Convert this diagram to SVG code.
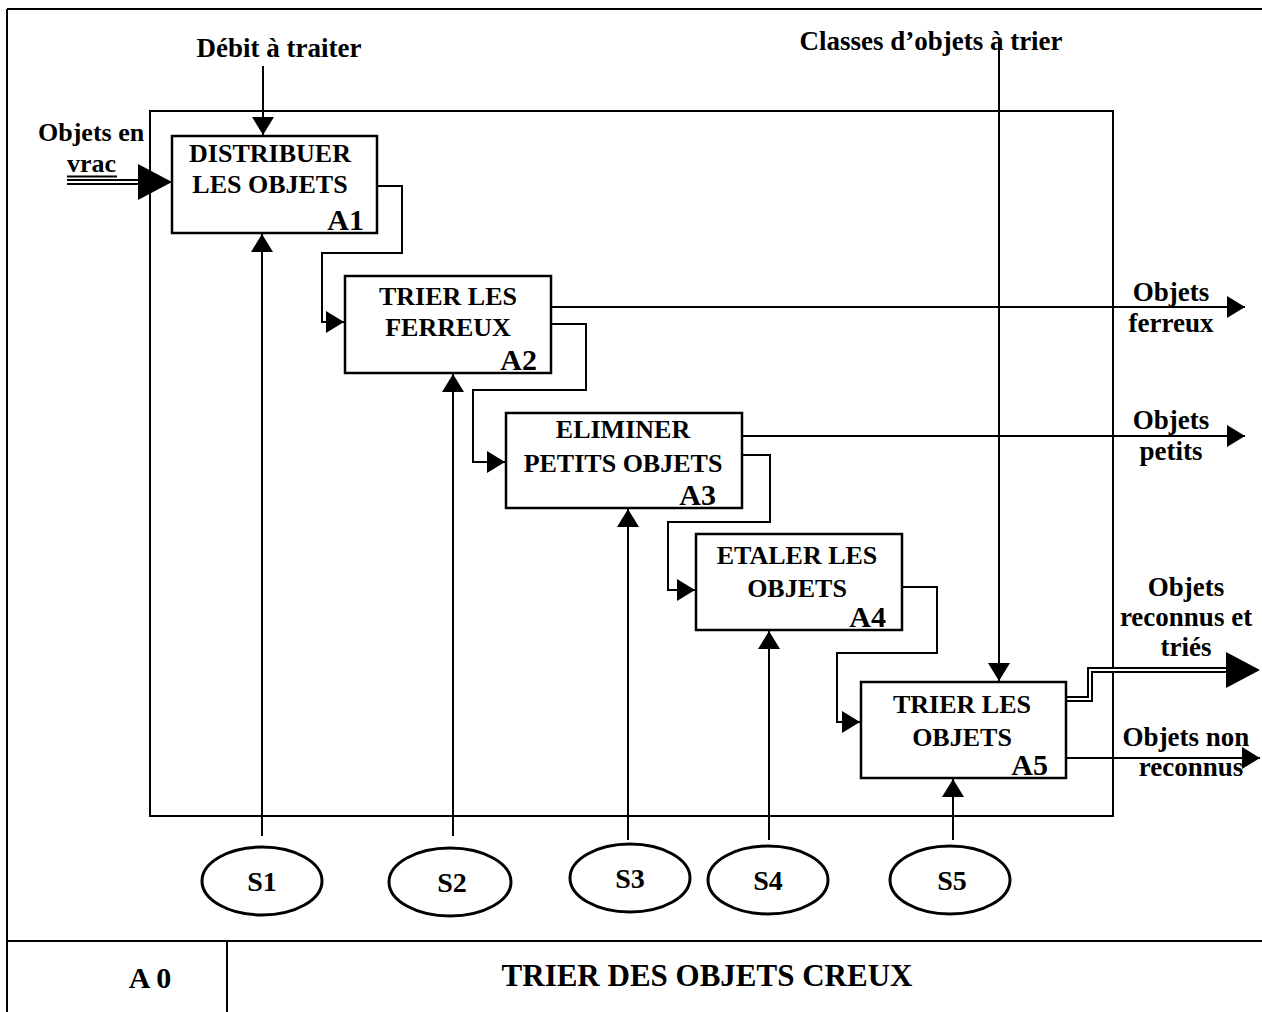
<svg xmlns="http://www.w3.org/2000/svg" width="1262" height="1012" viewBox="0 0 1262 1012">
<defs>
<style>
text{font-family:"Liberation Serif","Times New Roman",serif;font-weight:bold;fill:#000}
.box{fill:#fff;stroke:#000;stroke-width:2.5}
.ln{fill:none;stroke:#000;stroke-width:2}
.frame{fill:none;stroke:#000;stroke-width:2}
.t{font-size:26px;text-anchor:middle}
.lab{font-size:30px;text-anchor:end}
.io{font-size:27px;text-anchor:middle}
.ell{fill:#fff;stroke:#000;stroke-width:3}
.dbl1{fill:none;stroke:#000;stroke-width:6}
.dbl2{fill:none;stroke:#fff;stroke-width:2}
</style>
<marker id="ah" markerUnits="userSpaceOnUse" markerWidth="20" markerHeight="22" refX="18" refY="11" orient="auto">
<path d="M0,0 L18,11 L0,22 z" fill="#000"/>
</marker>
</defs>

<g id="frame">
<path class="frame" d="M7,9 H1262 M7,9 V1012 M7,941 H1262 M227,941 V1012"/>
<rect class="frame" x="150" y="111" width="963" height="705"/>
<text x="150" y="988" style="font-size:30px;text-anchor:middle">A 0</text>
<text x="707" y="986" style="font-size:31px;text-anchor:middle">TRIER DES OBJETS CREUX</text>
</g>

<g id="connectors">
<path class="ln" d="M263,66 V135" marker-end="url(#ah)"/>
<path class="ln" d="M999,44 V681" marker-end="url(#ah)"/>
<path class="dbl1" d="M67,182 H142"/>
<path class="dbl2" d="M65,182 H142"/>
<polygon points="138,164 172,182 138,200" fill="#000"/>
<path class="ln" d="M377,186 H402 V253 H322 V322 H344" marker-end="url(#ah)"/>
<path class="ln" d="M551,324 H586 V390 H473 V462 H505" marker-end="url(#ah)"/>
<path class="ln" d="M742,455 H770 V522 H668 V590 H695" marker-end="url(#ah)"/>
<path class="ln" d="M902,587 H937 V653 H837 V722 H860" marker-end="url(#ah)"/>
<path class="ln" d="M551,307 H1245" marker-end="url(#ah)"/>
<path class="ln" d="M742,436 H1245" marker-end="url(#ah)"/>
<path class="ln" d="M1066,758 H1260" marker-end="url(#ah)"/>
<path class="dbl1" d="M1066,699 H1090 V670 H1230"/>
<path class="dbl2" d="M1064,699 H1090 V670 H1230"/>
<polygon points="1226,652 1260,670 1226,688" fill="#000"/>
<path class="ln" d="M262,836 V234" marker-end="url(#ah)"/>
<path class="ln" d="M453,836 V374" marker-end="url(#ah)"/>
<path class="ln" d="M628,840 V509" marker-end="url(#ah)"/>
<path class="ln" d="M769,840 V631" marker-end="url(#ah)"/>
<path class="ln" d="M953,840 V779" marker-end="url(#ah)"/>
</g>

<g id="labels">
<text x="279" y="57" class="io">Débit à traiter</text>
<text x="931" y="50" class="io">Classes d’objets à trier</text>
<text x="38" y="141" style="font-size:26px">Objets en</text>
<text x="67" y="172" style="font-size:26px">vrac</text>
<path class="ln" d="M67,176.5 H117"/>
<text x="1171" y="301" class="io">Objets</text>
<text x="1171" y="332" class="io">ferreux</text>
<text x="1171" y="429" class="io">Objets</text>
<text x="1171" y="460" class="io">petits</text>
<text x="1186" y="596" class="io">Objets</text>
<text x="1186" y="626" class="io">reconnus et</text>
<text x="1186" y="656" class="io">triés</text>
<text x="1186" y="746" class="io">Objets non</text>
<text x="1191" y="776" class="io">reconnus</text>
</g>

<g id="A1">
<rect class="box" x="172" y="136" width="205" height="97"/>
<text class="t" x="270" y="162">DISTRIBUER</text>
<text class="t" x="270" y="193">LES OBJETS</text>
<text class="lab" x="364" y="230">A1</text>
</g>
<g id="A2">
<rect class="box" x="345" y="276" width="206" height="97"/>
<text class="t" x="448" y="305">TRIER LES</text>
<text class="t" x="448" y="336">FERREUX</text>
<text class="lab" x="537" y="370">A2</text>
</g>
<g id="A3">
<rect class="box" x="506" y="413" width="236" height="95"/>
<text class="t" x="623" y="438">ELIMINER</text>
<text class="t" x="623" y="472">PETITS OBJETS</text>
<text class="lab" x="716" y="505">A3</text>
</g>
<g id="A4">
<rect class="box" x="696" y="534" width="206" height="96"/>
<text class="t" x="797" y="564">ETALER LES</text>
<text class="t" x="797" y="597">OBJETS</text>
<text class="lab" x="886" y="627">A4</text>
</g>
<g id="A5">
<rect class="box" x="861" y="682" width="205" height="96"/>
<text class="t" x="962" y="713">TRIER LES</text>
<text class="t" x="962" y="746">OBJETS</text>
<text class="lab" x="1048" y="775">A5</text>
</g>

<g id="S1"><ellipse class="ell" cx="262" cy="881" rx="60" ry="34"/><text x="262" y="891" style="font-size:28px;text-anchor:middle">S1</text></g>
<g id="S2"><ellipse class="ell" cx="450" cy="882" rx="61" ry="34"/><text x="452" y="892" style="font-size:28px;text-anchor:middle">S2</text></g>
<g id="S3"><ellipse class="ell" cx="630" cy="878" rx="60" ry="34"/><text x="630" y="888" style="font-size:28px;text-anchor:middle">S3</text></g>
<g id="S4"><ellipse class="ell" cx="768" cy="880" rx="60" ry="34"/><text x="768" y="890" style="font-size:28px;text-anchor:middle">S4</text></g>
<g id="S5"><ellipse class="ell" cx="950" cy="880" rx="60" ry="34"/><text x="952" y="890" style="font-size:28px;text-anchor:middle">S5</text></g>
</svg>
